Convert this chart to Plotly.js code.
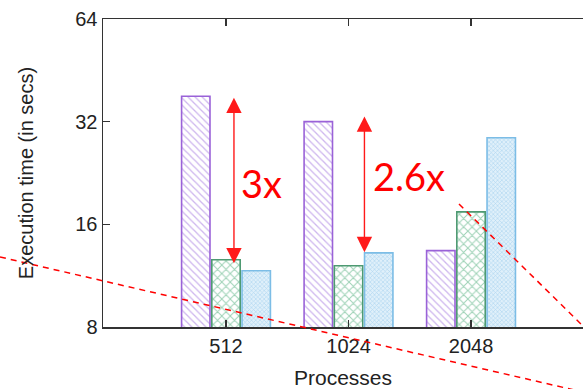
<!DOCTYPE html>
<html>
<head>
<meta charset="utf-8">
<script src="https://cdn.plot.ly/plotly-3.0.1.min.js"></script>
<style>html,body{margin:0;padding:0;background:#fff;}#chart{width:583px;height:389px;}</style>
</head>
<body>
<div id="chart"></div>
<script>
// Data
const categories = ["512", "1024", "2048"];
const seriesA = [38, 32, 13.4];    // purple, diagonal hatch
const seriesB = [12.6, 12.1, 17.4]; // green, cross hatch
const seriesC = [11.7, 13.2, 28.7]; // blue, fine cross hatch
const yTicks = [8, 16, 32, 64];
const speedupLabels = ["3x", "2.6x"];
const speedupTop = [38, 33.5];
const speedupBottom = [12.3, 13.25];

const xpos = categories.map((c, i) => i);

function barTrace(vals, line, fg, bg, shape, size, sol) {
  return {
    type: 'bar', x: xpos, y: vals, showlegend: false,
    marker: {
      color: bg,
      line: {color: line, width: 1.6},
      pattern: {shape: shape, fgcolor: fg, bgcolor: bg, size: size, solidity: sol, fillmode: 'replace'}
    },
    hoverinfo: 'skip'
  };
}

const traces = [
  barTrace(seriesA, '#9a62d8', '#cdb5ee', '#ffffff', '\\', 5, 0.25),
  barTrace(seriesB, '#4e9a72', '#9dd2b6', '#ffffff', 'x', 6, 0.3),
  barTrace(seriesC, '#7cbde6', '#acd5f0', '#e0f0fa', 'x', 3, 0.35)
];

const arrowX = [0.065, 1.13];
const labelX = [0.29, 1.49];
const labelY = [21.1, 22.1];

const annotations = [];
speedupLabels.forEach((t, i) => {
  annotations.push({
    x: arrowX[i], y: Math.log10(speedupBottom[i]), xref: 'x', yref: 'y',
    ax: arrowX[i], ay: Math.log10(speedupTop[i]), axref: 'x', ayref: 'y',
    text: '', showarrow: true, arrowhead: 2, arrowside: 'end+start',
    arrowsize: 2.2, arrowwidth: 1.4, arrowcolor: '#ff1a1a', standoff: 0, startstandoff: 0
  });
  annotations.push({
    x: labelX[i], y: Math.log10(labelY[i]), xref: 'x', yref: 'y',
    text: t, showarrow: false,
    font: {family: 'Lato, "Open Sans", sans-serif', size: 38, color: '#ff0000'}
  });
});

// overlay dashed red lines (pixel-placed on the slide)
const L = 103, T = 19, W = 480, H = 308;
const px = v => (v - L) / W;
const py = v => (T + H - v) / H;
const shapes = [
  {type: 'line', xref: 'paper', yref: 'paper', x0: px(0), y0: py(257), x1: px(583), y1: py(392),
   line: {color: '#ff0000', width: 1.5, dash: '6px,5px'}, layer: 'above'},
  {type: 'line', xref: 'paper', yref: 'paper', x0: px(459), y0: py(204), x1: px(583), y1: py(326),
   line: {color: '#ff0000', width: 1.5, dash: '6px,5px'}, layer: 'above'}
];

const layout = {
  width: 583, height: 389,
  margin: {l: L, r: 0, t: T, b: 389 - T - H, pad: 0},
  paper_bgcolor: '#ffffff', plot_bgcolor: '#ffffff',
  barmode: 'group', bargap: 0.26, bargroupgap: 0.06,
  font: {family: '"Liberation Sans", Arial, sans-serif', color: '#222222', size: 20},
  xaxis: {
    range: [-1.004, 2.914], tickvals: xpos, ticktext: categories,
    ticks: 'inside', ticklen: 7, tickwidth: 1.5, tickcolor: '#333',
    showline: true, linecolor: '#333', linewidth: 1.5, mirror: 'ticks',
    showgrid: false, zeroline: false,
    tickfont: {size: 20, color: '#222'},
    title: {text: 'Processes', font: {size: 21, color: '#222'}, standoff: 15}
  },
  yaxis: {
    type: 'log', range: [Math.log10(8), Math.log10(64)],
    tickvals: yTicks, ticktext: yTicks.map(String),
    ticks: 'inside', ticklen: 7, tickwidth: 1.5, tickcolor: '#333',
    showline: true, linecolor: '#333', linewidth: 1.5, mirror: false,
    showgrid: false, zeroline: false,
    tickfont: {size: 20, color: '#222'},
    title: {text: 'Execution time (in secs)', font: {size: 20, color: '#222'}, standoff: 36}
  },
  annotations: annotations,
  shapes: shapes
};

Plotly.newPlot('chart', traces, layout, {displayModeBar: false, staticPlot: true});
</script>
</body>
</html>
